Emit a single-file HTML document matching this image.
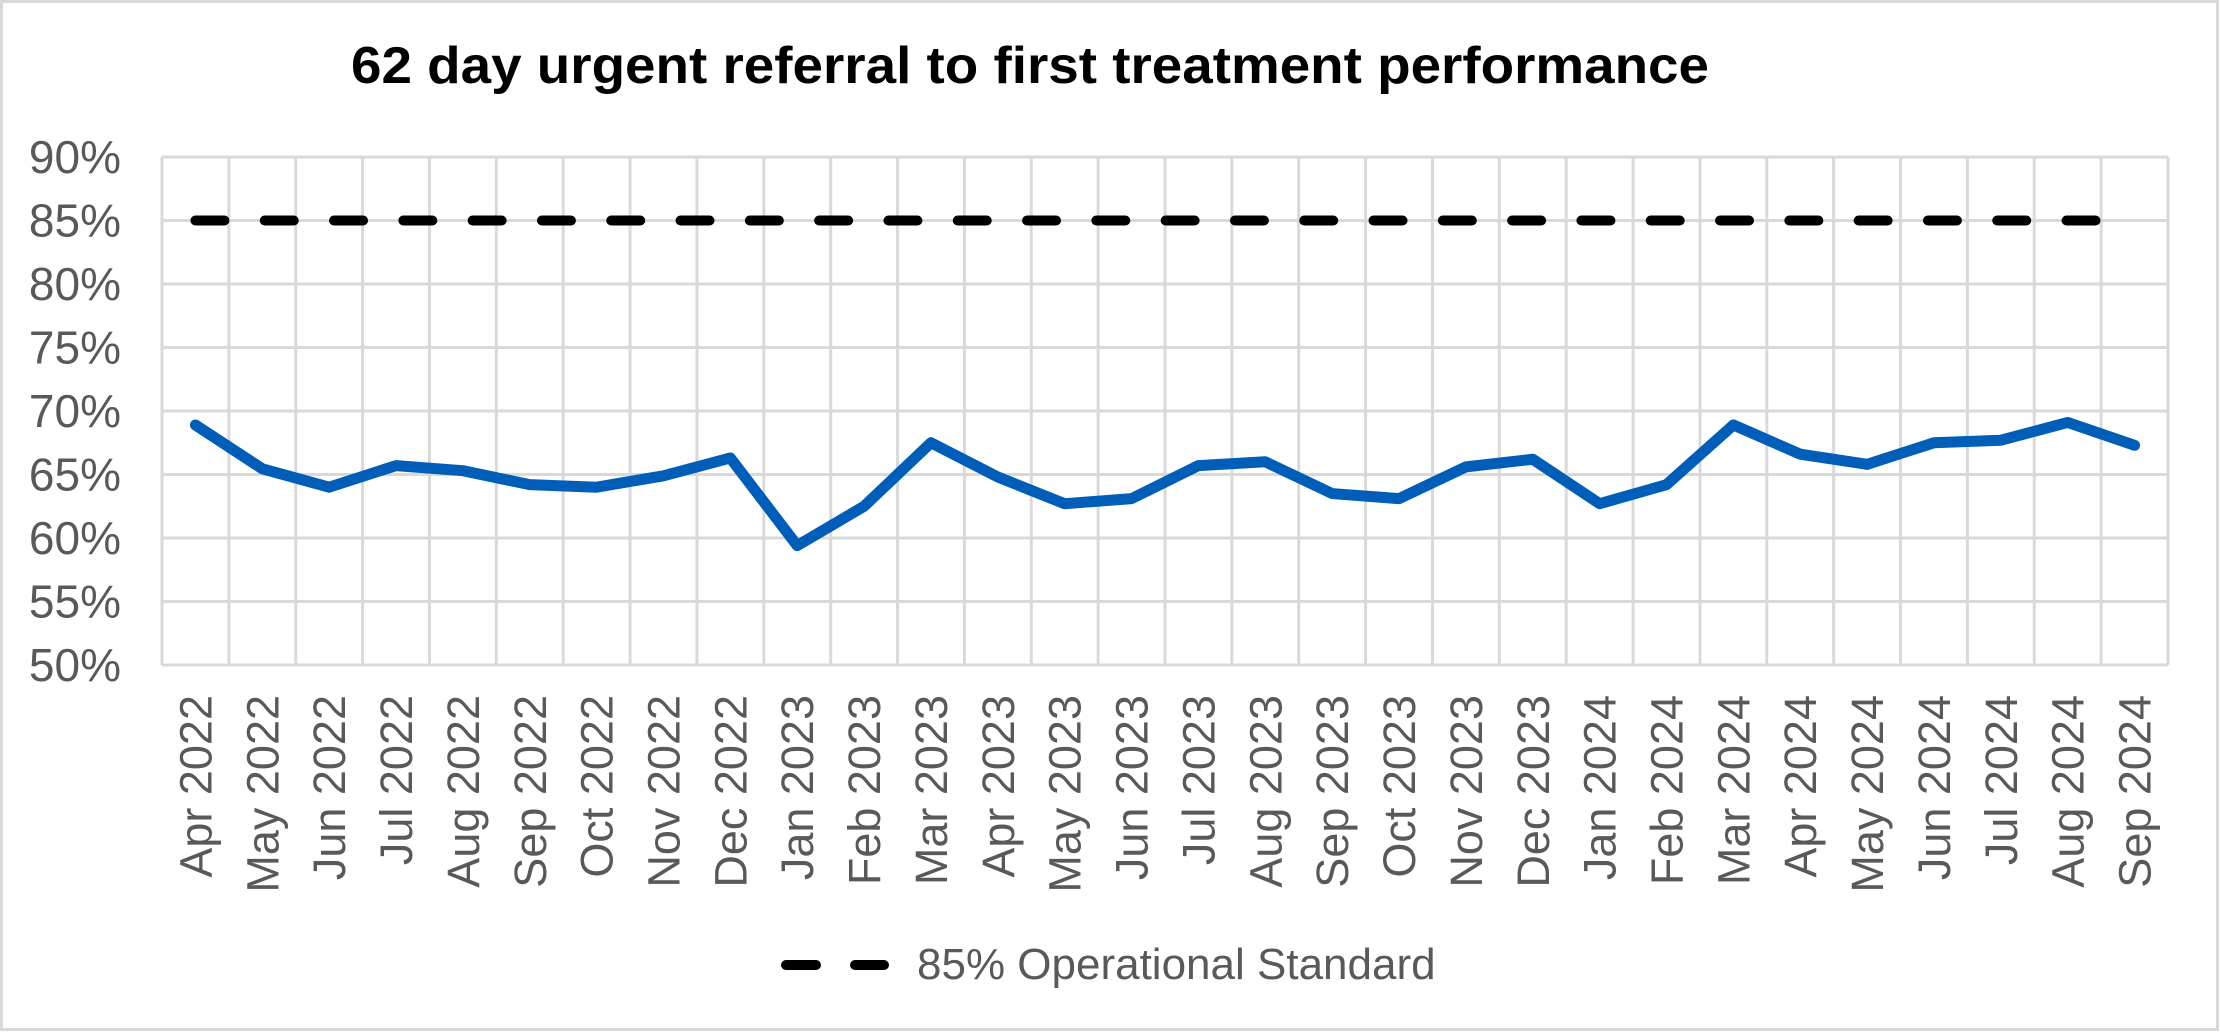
<!DOCTYPE html>
<html><head><meta charset="utf-8"><style>
html,body{margin:0;padding:0;background:#fff;}
svg{display:block;font-family:"Liberation Sans",Arial,sans-serif;}
</style></head><body>
<svg id="chart" width="2220" height="1032" viewBox="0 0 2220 1032">
<rect x="1.5" y="1.5" width="2216" height="1028" fill="#fff" stroke="#d9d9d9" stroke-width="3"/>
<text x="1030" y="83" text-anchor="middle" font-size="52" font-weight="bold" fill="#000" textLength="1358" lengthAdjust="spacingAndGlyphs">62 day urgent referral to first treatment performance</text>
<g id="grid"></g>
<g id="yticks"></g>
<g id="xticks"></g>
<g id="series"></g>
<g>
<line x1="786" y1="965" x2="884" y2="965" stroke="#000" stroke-width="10" stroke-linecap="round" stroke-dasharray="30 39"/>
<text x="917" y="979" font-size="44" fill="#595959">85% Operational Standard</text>
</g>
</svg>
<script>
const categories = ["Apr 2022","May 2022","Jun 2022","Jul 2022","Aug 2022","Sep 2022","Oct 2022","Nov 2022","Dec 2022","Jan 2023","Feb 2023","Mar 2023","Apr 2023","May 2023","Jun 2023","Jul 2023","Aug 2023","Sep 2023","Oct 2023","Nov 2023","Dec 2023","Jan 2024","Feb 2024","Mar 2024","Apr 2024","May 2024","Jun 2024","Jul 2024","Aug 2024","Sep 2024"];
const performance = [68.9,65.45,64.0,65.7,65.3,64.2,64.0,64.9,66.3,59.4,62.5,67.5,64.8,62.7,63.1,65.7,66.0,63.5,63.1,65.6,66.2,62.7,64.2,68.9,66.6,65.8,67.5,67.7,69.1,67.3];
const standard = [85,85,85,85,85,85,85,85,85,85,85,85,85,85,85,85,85,85,85,85,85,85,85,85,85,85,85,85,85,85];
const yTicks = [50,55,60,65,70,75,80,85,90];
const yTickLabels = ["50%","55%","60%","65%","70%","75%","80%","85%","90%"];

const NS = "http://www.w3.org/2000/svg";
const L = 162, R = 2168, T = 157, B = 665, YMIN = 50, YMAX = 90;
const bw = (R - L) / categories.length;
function xPos(i){ return L + (i + 0.5) * bw; }
function yPos(v){ return B - (v - YMIN) / (YMAX - YMIN) * (B - T); }
function mk(tag, attrs, parent){ const e = document.createElementNS(NS, tag); for (const k in attrs) e.setAttribute(k, attrs[k]); parent.appendChild(e); return e; }

const grid = document.getElementById('grid');
yTicks.forEach(function(v){
  const l = mk('line', {x1:L, x2:R, y1:yPos(v), y2:yPos(v), stroke:'#d9d9d9', 'stroke-width':3}, grid);
  
  
});
for (let i = 0; i <= categories.length; i++) {
  const x = L + i * bw;
  const l = mk('line', {x1:x, x2:x, y1:T, y2:B, stroke:'#d9d9d9', 'stroke-width':3}, grid);
  
  
}
const yg = document.getElementById('yticks');
yTicks.forEach(function(v, i){
  const t = mk('text', {x:121, y:yPos(v) + 16, 'text-anchor':'end', 'font-size':46, fill:'#595959'}, yg);
  t.textContent = yTickLabels[i];
  
  
});
const xg = document.getElementById('xticks');
categories.forEach(function(c, i){
  const x = xPos(i) + 16, y = 695;
  const t = mk('text', {x:x, y:y, 'text-anchor':'end', 'font-size':45, fill:'#595959', transform:'rotate(-90 ' + x + ' ' + y + ')'}, xg);
  t.textContent = c;
  
  
});
const sg = document.getElementById('series');
const stdPts = standard.map(function(v, i){ return xPos(i) + ',' + yPos(v); }).join(' ');
const sl = mk('polyline', {points:stdPts, fill:'none', stroke:'#000', 'stroke-width':10, 'stroke-linecap':'round', 'stroke-dasharray':'29 40.3'}, sg);


const perfPts = performance.map(function(v, i){ return xPos(i) + ',' + yPos(v); }).join(' ');
const pl = mk('polyline', {points:perfPts, fill:'none', stroke:'#005EB8', 'stroke-width':11, 'stroke-linejoin':'round', 'stroke-linecap':'round'}, sg);


</script>
</body></html>
